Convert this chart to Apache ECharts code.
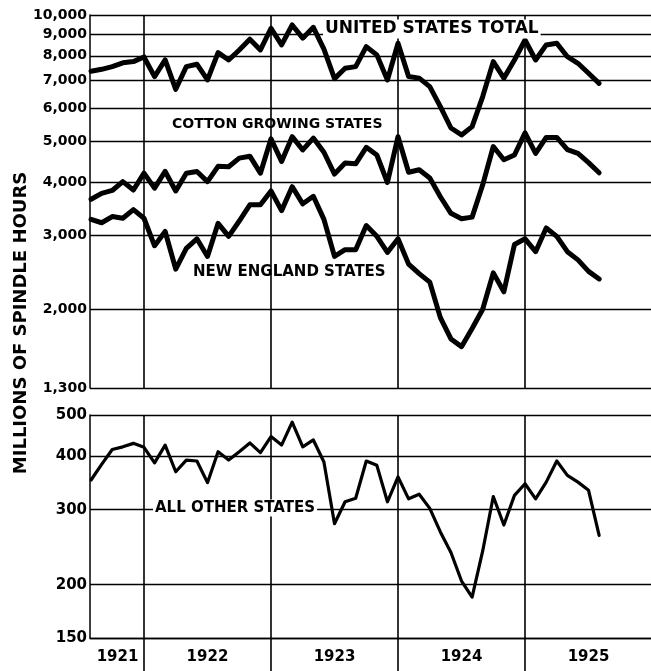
<!DOCTYPE html>
<html>
<head>
<meta charset="utf-8">
<script src="https://cdn.jsdelivr.net/npm/echarts@6/dist/echarts.min.js"></script>
<style>
    html, body { margin: 0; padding: 0; background: #fff; }
    #chart { width: 651px; height: 671px; }
</style>
</head>
<body>
<div id="chart"></div>
<script>
let chart = echarts.init(document.getElementById('chart'), null, {renderer: 'canvas'});

// x = month index, Jan 1921 = 0; data run Aug 1921 (7) .. Aug 1925 (55)
let firstMonth = 7;
let lastMonth = 55;

let usTotal = [7350, 7430, 7540, 7700, 7750, 7950, 7140, 7820, 6660, 7540, 7640, 7010,
    8140, 7820, 8260, 8760, 8260, 9300, 8490, 9470, 8810, 9350, 8300, 7060,
    7470, 7540, 8410, 8040, 7010, 8570, 7140, 7080, 6760, 6060, 5390, 5190,
    5430, 6400, 7750, 7080, 7820, 8720, 7820, 8490, 8570, 7960, 7680, 7270, 6880];

let cottonStates = [3650, 3770, 3830, 4020, 3840, 4210, 3880, 4250, 3820, 4210, 4250, 4020,
    4370, 4360, 4570, 4620, 4210, 5080, 4490, 5140, 4780, 5100, 4720, 4190,
    4450, 4430, 4850, 4650, 4000, 5140, 4230, 4290, 4100, 3700, 3380, 3280,
    3310, 3950, 4870, 4530, 4650, 5250, 4690, 5120, 5120, 4790, 4690, 4460, 4220];

let newEngland = [3270, 3210, 3320, 3290, 3450, 3290, 2830, 3060, 2490, 2790, 2940, 2670,
    3200, 2980, 3240, 3540, 3540, 3820, 3430, 3910, 3560, 3710, 3270, 2670,
    2770, 2770, 3160, 2980, 2730, 2940, 2560, 2430, 2320, 1910, 1700, 1630,
    1800, 2000, 2440, 2200, 2850, 2940, 2740, 3120, 2980, 2740, 2620, 2460, 2360];

let otherStates = [352, 383, 415, 421, 429, 420, 386, 425, 368, 392, 390, 347,
    410, 392, 410, 430, 408, 445, 425, 481, 421, 437, 388, 278,
    313, 319, 390, 381, 313, 358, 318, 326, 302, 266, 238, 204,
    187, 240, 322, 276, 324, 345, 318, 348, 390, 361, 348, 333, 261];

let topTicks = [1300, 2000, 3000, 4000, 5000, 6000, 7000, 8000, 9000, 10000];
let bottomTicks = [150, 200, 300, 400, 500];
let yearBreaks = [12, 24, 36, 48];
let yearLabels = ['1921', '1922', '1923', '1924', '1925'];
let yearLabelAt = [9.5, 18, 30, 42, 54];

let months = [];
for (let m = firstMonth; m <= lastMonth; m++) months.push(m);

let fontFamily = '"DejaVu Sans", sans-serif';

let lineSeries = (name, values, width, idx) => ({
    type: 'line',
    name: name,
    xAxisIndex: idx,
    yAxisIndex: idx,
    data: months.map((m, i) => [m, values[i]]),
    symbol: 'none',
    silent: true,
    z: 5,
    lineStyle: {color: '#000', width: width, join: 'round', cap: 'round'},
    emphasis: {disabled: true}
});

let gridLines = (ticks, idx) => ({
    type: 'line',
    xAxisIndex: idx,
    yAxisIndex: idx,
    data: [],
    silent: true,
    z: 1,
    markLine: {
        silent: true,
        symbol: 'none',
        animation: false,
        label: {show: false},
        emphasis: {disabled: true},
        lineStyle: {color: '#000', width: 1.3, type: 'solid'},
        data: ticks.map(v => ({yAxis: v}))
            .concat(yearBreaks.map(v => ({xAxis: v, lineStyle: {color: '#000', width: 1.6, type: 'solid'}})))
    }
});

let tickLabel = {
    color: '#000',
    fontFamily: fontFamily,
    fontWeight: 'bold',
    margin: 3,
    formatter: v => Math.round(v).toLocaleString('en-US')
};

let caption = (text, x, y, size, bg) => ({
    type: 'text',
    x: x,
    y: y,
    z: 100,
    silent: true,
    style: {
        text: text,
        fill: '#000',
        font: 'bold ' + size + 'px ' + fontFamily,
        verticalAlign: 'middle',
        backgroundColor: bg ? '#fff' : null,
        padding: bg ? [1, 2] : 0
    }
});

let option = {
    animation: false,
    backgroundColor: '#fff',
    grid: [
        {left: 90, right: 0, top: 15, height: 373},
        {left: 90, right: 0, top: 415, height: 223}
    ],
    xAxis: [{
        type: 'value',
        gridIndex: 0,
        min: 6.9,
        max: 59.9,
        axisLine: {show: false},
        axisTick: {show: false},
        axisLabel: {show: false},
        splitLine: {show: false}
    }, {
        type: 'value',
        gridIndex: 1,
        min: 6.9,
        max: 59.9,
        axisLine: {show: true, lineStyle: {color: '#000', width: 1.3}},
        axisTick: {show: true, customValues: yearBreaks, length: 33, lineStyle: {color: '#000', width: 1.6}},
        axisLabel: {
            customValues: yearLabelAt,
            color: '#000',
            fontFamily: fontFamily,
            fontWeight: 'bold',
            fontSize: 15,
            margin: 12,
            formatter: v => yearLabels[yearLabelAt.indexOf(v)]
        },
        splitLine: {show: false}
    }],
    yAxis: [{
        type: 'log',
        logBase: 10,
        gridIndex: 0,
        min: 1300,
        max: 10000,
        axisLine: {show: true, lineStyle: {color: '#000', width: 1.5}},
        axisTick: {show: false},
        splitLine: {show: false},
        axisLabel: {...tickLabel, customValues: topTicks, fontSize: 14}
    }, {
        type: 'log',
        logBase: 10,
        gridIndex: 1,
        min: 150,
        max: 500,
        axisLine: {show: true, lineStyle: {color: '#000', width: 1.5}},
        axisTick: {show: false},
        splitLine: {show: false},
        axisLabel: {...tickLabel, customValues: bottomTicks, fontSize: 15}
    }],
    graphic: [
        caption('UNITED STATES TOTAL', 323, 29, 17, true),
        caption('COTTON GROWING STATES', 172, 124, 14, false),
        caption('NEW ENGLAND STATES', 193, 272, 15, false),
        caption('ALL OTHER STATES', 153, 508, 15, true),
        {
            type: 'text',
            x: 21,
            y: 323,
            rotation: Math.PI / 2,
            z: 100,
            silent: true,
            style: {
                text: 'MILLIONS OF SPINDLE HOURS',
                fill: '#000',
                font: 'bold 18px ' + fontFamily,
                align: 'center',
                verticalAlign: 'middle'
            }
        }
    ],
    series: [
        gridLines(topTicks, 0),
        gridLines(bottomTicks, 1),
        lineSeries('United States Total', usTotal, 5, 0),
        lineSeries('Cotton Growing States', cottonStates, 5, 0),
        lineSeries('New England States', newEngland, 5, 0),
        lineSeries('All Other States', otherStates, 3.2, 1)
    ]
};

chart.setOption(option);
window.addEventListener('resize', chart.resize);
</script>
</body>
</html>
